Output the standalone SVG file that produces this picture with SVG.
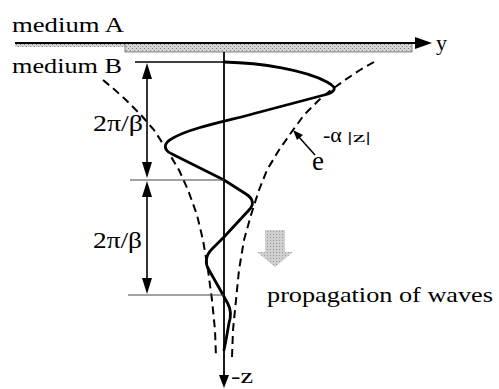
<svg xmlns="http://www.w3.org/2000/svg" width="499" height="389" viewBox="0 0 499 389">
<style>
.t{font-family:"Liberation Serif","Times New Roman",serif;fill:#000}
.dash{fill:none;stroke:#000;stroke-width:2;stroke-dasharray:8 5;stroke-linejoin:round}
.ln{fill:none;stroke:#000;stroke-width:1.6}
.thin{fill:none;stroke:#444;stroke-width:1}
.wave{fill:none;stroke:#000;stroke-width:2.8;stroke-linejoin:round;stroke-linecap:round}
.ah{fill:#000}
</style>
<defs>
<pattern id="dots" width="4" height="4" patternUnits="userSpaceOnUse">
<rect width="4" height="4" fill="#d4d4d4"/>
<rect x="0" y="0" width="1" height="1" fill="#777"/>
<rect x="2" y="2" width="1" height="1" fill="#888"/>
</pattern>
<pattern id="dots2" width="3" height="3" patternUnits="userSpaceOnUse">
<rect width="3" height="3" fill="#cfcfcf"/>
<rect x="0" y="0" width="1" height="1" fill="#999"/>
</pattern>
</defs>

<g id="media">
<rect x="15" y="43" width="110" height="4" fill="url(#dots)"/>
<rect x="125" y="43" width="287" height="9" fill="url(#dots)" stroke="#666" stroke-width="0.8"/>
<text class="t" x="12" y="32" font-size="22" textLength="112" lengthAdjust="spacingAndGlyphs">medium A</text>
<text class="t" x="12" y="73" font-size="22" textLength="110" lengthAdjust="spacingAndGlyphs">medium B</text>
</g>

<g id="y-axis">
<line x1="15" y1="43" x2="417" y2="43" stroke="#000" stroke-width="2"/>
<polygon class="ah" points="415,37 432,43 415,49"/>
<text class="t" x="436" y="50" font-size="22">y</text>
</g>

<g id="z-axis">
<line x1="224" y1="52" x2="224" y2="376" stroke="#000" stroke-width="1.8"/>
<polygon class="ah" points="219,375 229,375 224,388"/>
<text class="t" x="231" y="383" font-size="21" textLength="22" lengthAdjust="spacingAndGlyphs">-z</text>
</g>

<g id="envelope">
<polyline class="dash" points="374,62 360,70 345,80 331,90 319,100 304,115 293,130 279,150 267,170 259,190 251,215 244,240 239,270 236,300 233,330 232,357"/>
<polyline class="dash" points="103,80 115,90 126,100 141,115 154,130 167,150 179,170 188,190 197,215 203,240 208,270 212,300 215,330 216,357"/>
</g>

<g id="wave">
<path class="wave" d="M224,62 C262,63 305,70 327,82 C336,87 337,90 328,94 L260,112 C232,120 192,127 173,138 C163,143 163,150 172,154 L224,180 L246,194 C254,199 254,205 249,210 L224,237 L212,249 C205,256 205,264 209,270 L222,293 L228,304 C231,310 231,317 229,323 L226,340 L224,350"/>
</g>

<g id="dimensions">
<line class="ln" x1="135" y1="62" x2="232" y2="62"/>
<line class="thin" x1="130" y1="180" x2="224" y2="180"/>
<line class="thin" x1="128" y1="295" x2="224" y2="295"/>
<line class="ln" x1="147" y1="70" x2="147" y2="170"/>
<line class="ln" x1="147" y1="190" x2="147" y2="287"/>
<polygon class="ah" points="147,63 142,79 152,79"/>
<polygon class="ah" points="147,178 142,162 152,162"/>
<polygon class="ah" points="147,181 142,197 152,197"/>
<polygon class="ah" points="147,294 142,278 152,278"/>
<text class="t" x="93" y="131" font-size="24" textLength="50" lengthAdjust="spacingAndGlyphs">2π/β</text>
<text class="t" x="93" y="248" font-size="24" textLength="49" lengthAdjust="spacingAndGlyphs">2π/β</text>
</g>

<g id="envelope-label">
<line x1="315" y1="155" x2="298" y2="136" stroke="#000" stroke-width="1.5"/>
<polygon class="ah" points="293,130 303,135 297,140"/>
<text class="t" x="312" y="170" font-size="27">e</text>
<text class="t" x="323" y="142" font-size="22">-α</text>
<text class="t" x="347" y="142" font-size="14" textLength="24" lengthAdjust="spacingAndGlyphs">|z|</text>
</g>

<g id="propagation">
<polygon points="265,230 285,230 285,252 293,252 275,267 257,252 265,252" fill="url(#dots2)"/>
<text class="t" x="267" y="302" font-size="22" textLength="226" lengthAdjust="spacingAndGlyphs">propagation of waves</text>
</g>
</svg>
